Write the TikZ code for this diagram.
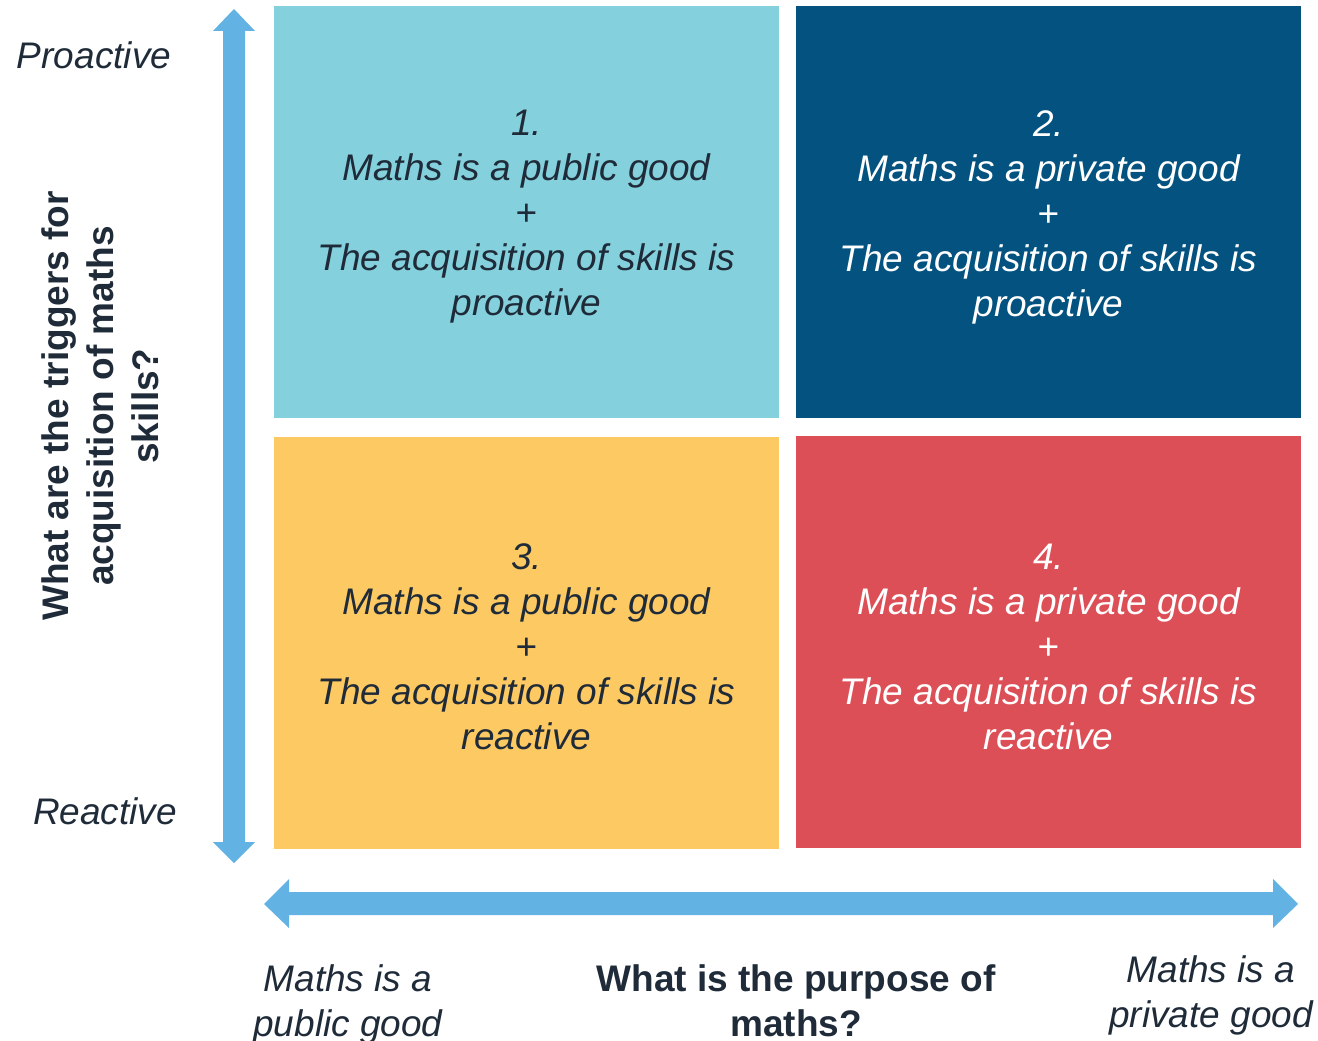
\documentclass[tikz,border=0pt]{standalone}
\usepackage{fontspec}
\setmainfont{Liberation Sans}
\definecolor{qone}{HTML}{84D0DD}
\definecolor{qtwo}{HTML}{03527F}
\definecolor{qthree}{HTML}{FDC962}
\definecolor{qfour}{HTML}{DD4F57}
\definecolor{axisblue}{HTML}{62B3E3}
\definecolor{txt}{HTML}{1F2B38}
\begin{document}
\begin{tikzpicture}[x=0.75pt,y=-0.75pt,
  qtext/.style={align=center,text=txt,font=\fontsize{27.75}{33.75}\selectfont\itshape},
  axtext/.style={align=center,text=txt,font=\fontsize{27.75}{33.75}\selectfont\itshape},
  boldtext/.style={align=center,text=txt,font=\fontsize{27.75}{33.75}\selectfont\bfseries}]
\useasboundingbox (0,0) rectangle (1318,1041);
% quadrants
\fill[qone] (274,6) rectangle (779,418);
\fill[qtwo] (796,6) rectangle (1301,418);
\fill[qthree] (274,437) rectangle (779,849);
\fill[qfour] (796,436) rectangle (1301,848);
\node[qtext] (q1) at (526.5,217) {1.\\Maths is a public good\\+\\The acquisition of skills is\\proactive};
\node[qtext,text=white] (q2) at (1048.5,217) {2.\\Maths is a private good\\+\\The acquisition of skills is\\proactive};
\node[qtext] (q3) at (526.5,647) {3.\\Maths is a public good\\+\\The acquisition of skills is\\reactive};
\node[qtext,text=white] (q4) at (1048.5,647) {4.\\Maths is a private good\\+\\The acquisition of skills is\\reactive};
% vertical axis arrow
\fill[axisblue] (234,9) -- (255,31) -- (245,31) -- (245,842) -- (255,842) -- (234,863)
  -- (213,842) -- (223,842) -- (223,31) -- (213,31) -- cycle;
% horizontal axis arrow
\fill[axisblue] (264,904) -- (289,879) -- (289,892) -- (1273,892) -- (1273,879) -- (1298,904)
  -- (1273,928) -- (1273,915) -- (289,915) -- (289,928) -- cycle;
% axis labels
\node[axtext] (pro) at (94,55) {Proactive};
\node[axtext] (rea) at (105,811) {Reactive};
\node[boldtext,rotate=90] (ylab) at (100,406) {What are the triggers for\\acquisition of maths\\skills?};
\node[boldtext] (xlab) at (796,1001) {What is the purpose of\\maths?};
\node[axtext] (xl) at (348,1004) {Maths is a\\public good};
\node[axtext] (xr) at (1211,995) {Maths is a\\private good};
\end{tikzpicture}
\end{document}
